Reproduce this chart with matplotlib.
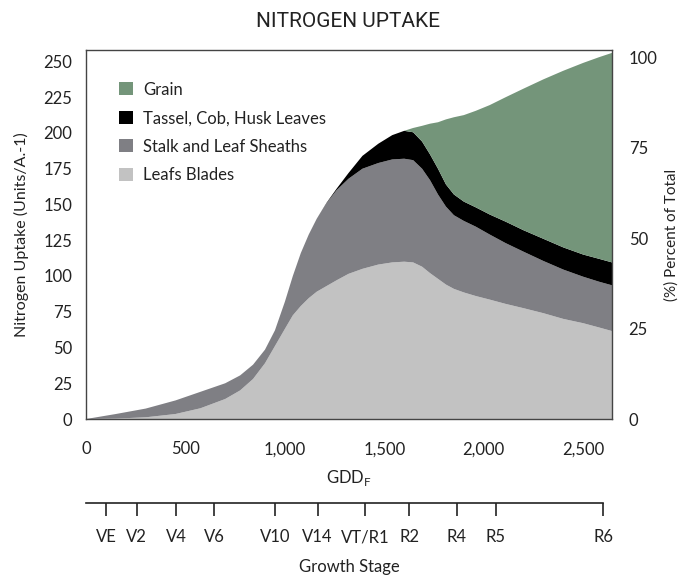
import matplotlib
matplotlib.use("Agg")
import matplotlib.pyplot as plt
from matplotlib.patches import Patch

plt.rcParams['font.family'] = ['Lato', 'DejaVu Sans']

# ---- data ----
gdd = [0, 150, 300, 450, 575, 700, 775, 840, 900, 950, 1000, 1040, 1080, 1120,
       1160, 1210, 1260, 1320, 1390, 1470, 1540, 1600, 1645, 1690, 1730, 1770,
       1810, 1850, 1900, 1960, 2030, 2110, 2200, 2300, 2400, 2500, 2580, 2645]
leaf_blades = [0, 0.3, 1.2, 3.5, 7.5, 14, 20, 28, 39, 51, 63, 72.5, 79, 84.5,
               89, 93, 97, 101.5, 105, 108, 109.5, 110, 109.5, 106.5, 102, 98,
               94, 91, 88.5, 86, 83.5, 80.5, 77.5, 74, 70, 67, 64, 61.5]
stalk_sheaths = [0, 3.2, 6.1, 9.5, 11.5, 11, 10.5, 10, 9.5, 11, 19, 27.5, 37, 44.5,
                 51, 58, 63, 66.5, 70, 71, 72, 72, 71.5, 68.5, 65, 59,
                 54.5, 51.5, 50, 48.5, 45.5, 42.5, 39.5, 36.5, 34.5, 32.5, 32, 32]
tassel_cob_husk = [0, 0, 0, 0, 0, 0, 0, 0, 0, 0, 0, 0, 0, 0,
                   0, 0.3, 1, 4, 9, 13.5, 17, 19.5, 19.5, 19, 18, 18,
                   15.5, 14.5, 13.5, 13.5, 14, 15, 15, 15.5, 15.5, 15.5, 16, 16]
grain = [0, 0, 0, 0, 0, 0, 0, 0, 0, 0, 0, 0, 0, 0,
         0, 0, 0, 0, 0, 0, 0, 0, 3, 11, 21.5, 32.5,
         45.5, 54, 60.5, 67.5, 76.5, 87, 99, 111.5, 123.5, 134, 141, 146.5]

series_labels = ["Leafs Blades", "Stalk and Leaf Sheaths", "Tassel, Cob, Husk Leaves", "Grain"]
series_colors = ["#c2c2c2", "#7f7f84", "#000000", "#74957a"]

x_ticks = [0, 500, 1000, 1500, 2000, 2500]
x_ticklabels = ["0", "500", "1,000", "1,500", "2,000", "2,500"]
y_ticks = [0, 25, 50, 75, 100, 125, 150, 175, 200, 225, 250]
pct_ticks = [0, 25, 50, 75, 100]

stage_names = ["VE", "V2", "V4", "V6", "V10", "V14", "VT/R1", "R2", "R4", "R5", "R6"]
stage_gdd = [100, 255, 455, 645, 950, 1165, 1405, 1625, 1865, 2060, 2600]

# ---- figure ----
fig = plt.figure(figsize=(6.81, 5.77), dpi=100)
ax = fig.add_axes([0.1263, 0.2738, 0.7724, 0.6395])

ax.stackplot(gdd, leaf_blades, stalk_sheaths, tassel_cob_husk, grain,
             colors=series_colors, linewidth=0)
ax.set_xlim(0, 2645)
ax.set_ylim(0, 258)
ax.set_xticks(x_ticks)
ax.set_xticklabels(x_ticklabels)
ax.set_yticks(y_ticks)
ax.tick_params(axis='both', length=0, labelsize=12, colors='#222222')
ax.tick_params(axis='x', pad=16)
ax.tick_params(axis='y', pad=10)
for s in ax.spines.values():
    s.set_color('#444444')
    s.set_linewidth(1.0)
ax.set_ylabel("Nitrogen Uptake (Units/A.-1)", fontsize=11.5, color='#222222', labelpad=10)
ax.set_xlabel("GDD$_\\mathregular{F}$", fontsize=12, color='#222222', labelpad=8)

axr = ax.twinx()
axr.set_ylim(0, 102)
axr.set_yticks(pct_ticks)
axr.tick_params(axis='y', length=0, labelsize=12, pad=12, colors='#222222')
axr.set_ylabel("(%) Percent of Total", fontsize=11, color='#222222', labelpad=5)
for s in axr.spines.values():
    s.set_visible(False)

handles = [Patch(facecolor=c, edgecolor='none') for c in series_colors[::-1]]
leg = ax.legend(handles, series_labels[::-1], loc='upper left',
                bbox_to_anchor=(0.035, 0.955), frameon=False, fontsize=12,
                handlelength=0.8, handleheight=0.8, handletextpad=0.6,
                labelspacing=0.75)
for t in leg.get_texts():
    t.set_color('#222222')

fig.text(0.511, 0.962, "NITROGEN UPTAKE", ha='center', va='center',
         fontsize=15, family=['Roboto', 'DejaVu Sans'], fontstretch='condensed',
         color='#222222')

# ---- growth stage axis ----
ax2 = fig.add_axes([0.1263, 0.1282, 0.7724, 0.001])
ax2.set_xlim(0, 2645)
ax2.set_yticks([])
for k in ['top', 'left', 'right']:
    ax2.spines[k].set_visible(False)
ax2.spines['bottom'].set_bounds(0, 2600)
ax2.spines['bottom'].set_color('#222222')
ax2.spines['bottom'].set_linewidth(1.2)
ax2.patch.set_visible(False)
ax2.set_xticks(stage_gdd)
ax2.set_xticklabels(stage_names)
ax2.tick_params(axis='x', direction='out', length=9, width=1.2, color='#222222',
                labelsize=12, pad=10, labelcolor='#222222')
ax2.set_xlabel("Growth Stage", fontsize=12, color='#222222', labelpad=10)

fig.savefig("out.png", dpi=100)
